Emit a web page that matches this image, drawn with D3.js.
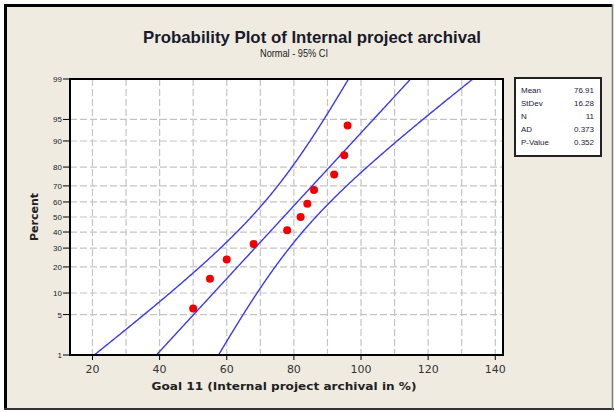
<!DOCTYPE html>
<html><head><meta charset="utf-8">
<script src="https://cdn.jsdelivr.net/npm/d3@7"></script>
<style>
html,body{margin:0;padding:0;background:#fff;}
svg{display:block;}
</style></head>
<body>
<script>
// ---- data ----
const values = [50, 55, 60, 68, 78, 82, 84, 86, 92, 95, 96];
const yTicks = [1, 5, 10, 20, 30, 40, 50, 60, 70, 80, 90, 95, 99];
const xTicks = [20, 40, 60, 80, 100, 120, 140];
const xGrid = [20, 30, 40, 50, 60, 70, 80, 90, 100, 110, 120, 130, 140];
const statLabels = ["Mean", "StDev", "N", "AD", "P-Value"];
const statValues = ["76.91", "16.28", "11", "0.373", "0.352"];
const mean = 76.91, sd = 16.28, n = values.length;
const title = "Probability Plot of Internal project archival";
const subtitle = "Normal - 95% CI";
const xLabel = "Goal 11 (Internal project archival in %)";
const yLabel = "Percent";

// inverse normal CDF (Acklam)
function qnorm(p){
  const a=[-3.969683028665376e+01,2.209460984245205e+02,-2.759285104469687e+02,1.383577518672690e+02,-3.066479806614716e+01,2.506628277459239e+00];
  const b=[-5.447609879822406e+01,1.615858368580409e+02,-1.556989798598866e+02,6.680131188771972e+01,-1.328068155288572e+01];
  const c=[-7.784894002430293e-03,-3.223964580411365e-01,-2.400758277161838e+00,-2.549732539343734e+00,4.374664141464968e+00,2.938163982698783e+00];
  const d=[7.784695709041462e-03,3.224671290700398e-01,2.445134137142996e+00,3.754408661907416e+00];
  const pl=0.02425, ph=1-pl; let q,r;
  if(p<pl){q=Math.sqrt(-2*Math.log(p));return (((((c[0]*q+c[1])*q+c[2])*q+c[3])*q+c[4])*q+c[5])/((((d[0]*q+d[1])*q+d[2])*q+d[3])*q+1);}
  if(p<=ph){q=p-0.5;r=q*q;return (((((a[0]*r+a[1])*r+a[2])*r+a[3])*r+a[4])*r+a[5])*q/(((((b[0]*r+b[1])*r+b[2])*r+b[3])*r+b[4])*r+1);}
  q=Math.sqrt(-2*Math.log(1-p));return -(((((c[0]*q+c[1])*q+c[2])*q+c[3])*q+c[4])*q+c[5])/((((d[0]*q+d[1])*q+d[2])*q+d[3])*q+1);
}

const W=614,H=412;
const L=70,R=503,T=79,B=355;
const svg=d3.select("body").append("svg").attr("width",W).attr("height",H);

// background & frame
svg.append("rect").attr("x",0).attr("y",0).attr("width",W).attr("height",H).attr("fill","#ffffff");
svg.append("rect").attr("x",5).attr("y",5).attr("width",607).attr("height",403).attr("fill","#efebe1");
svg.append("line").attr("x1",5.5).attr("x2",5.5).attr("y1",4).attr("y2",410).attr("stroke","#000").attr("stroke-width",3);
svg.append("line").attr("x1",4).attr("x2",613).attr("y1",5.5).attr("y2",5.5).attr("stroke","#000").attr("stroke-width",3);
svg.append("line").attr("x1",4).attr("x2",614).attr("y1",409).attr("y2",409).attr("stroke","#333",).attr("stroke-width",2);
svg.append("line").attr("x1",612.5).attr("x2",612.5).attr("y1",4).attr("y2",410).attr("stroke","#777").attr("stroke-width",1.5);

const x=d3.scaleLinear().domain([13.3,142.3]).range([L,R]);
const zl=d3.scaleLinear().domain([qnorm(0.01),qnorm(0.99)]).range([B,T]);
const y=p=>zl(qnorm(p/100));

svg.append("rect").attr("x",L).attr("y",T).attr("width",R-L).attr("height",B-T).attr("fill","#fff");

// grid
const gridC="#c4c4c4";
svg.append("g").selectAll("line").data(xGrid).join("line")
  .attr("x1",d=>x(d)).attr("x2",d=>x(d)).attr("y1",T).attr("y2",B)
  .attr("stroke",gridC).attr("stroke-width",1.2).attr("stroke-dasharray","7,3");
svg.append("g").selectAll("line").data(yTicks.filter(d=>d>1&&d<99)).join("line")
  .attr("x1",L).attr("x2",R).attr("y1",d=>y(d)).attr("y2",d=>y(d))
  .attr("stroke",gridC).attr("stroke-width",1.2).attr("stroke-dasharray","7,3");

// clip
svg.append("clipPath").attr("id","clip").append("rect").attr("x",L).attr("y",T).attr("width",R-L).attr("height",B-T);

// fitted line & CI
const zs=d3.range(-2.6,2.6001,0.02);
const zc=1.959964;
const fit=zs.map(z=>[mean+z*sd,z]);
const lo=zs.map(z=>[mean+z*sd-zc*sd*Math.sqrt((1+z*z/2)/n),z]);
const hi=zs.map(z=>[mean+z*sd+zc*sd*Math.sqrt((1+z*z/2)/n),z]);
const line=d3.line().x(d=>x(d[0])).y(d=>zl(d[1]));
const gl=svg.append("g").attr("clip-path","url(#clip)");
[fit,lo,hi].forEach(s=>gl.append("path").attr("d",line(s)).attr("fill","none").attr("stroke","#3a3af5").attr("stroke-width",1.4));

// points
const pts=values.slice().sort((a,b)=>a-b).map((v,i)=>[v,100*(i+1-0.3)/(n+0.4)]);
svg.append("g").selectAll("circle").data(pts).join("circle")
  .attr("cx",d=>x(d[0])).attr("cy",d=>y(d[1])).attr("r",4).attr("fill","#f20000");

// border
svg.append("rect").attr("x",L).attr("y",T).attr("width",R-L).attr("height",B-T).attr("fill","none").attr("stroke","#000").attr("stroke-width",2);

// y axis ticks
const yg=svg.append("g");
yg.selectAll("line").data(yTicks).join("line").attr("x1",L-7).attr("x2",L).attr("y1",d=>y(d)).attr("y2",d=>y(d)).attr("stroke","#000").attr("stroke-width",1);
yg.selectAll("text").data(yTicks).join("text").attr("x",L-8).attr("y",d=>y(d)+3).attr("text-anchor","end")
  .attr("font-family","Liberation Sans Narrow, Liberation Sans, sans-serif").attr("font-size",8).attr("fill","#222").text(d=>d);

// x axis ticks
const xg=svg.append("g");
xg.selectAll("line").data(xTicks).join("line").attr("x1",d=>x(d)).attr("x2",d=>x(d)).attr("y1",B).attr("y2",B+5).attr("stroke","#000");
xg.selectAll("text").data(xTicks).join("text").attr("x",d=>x(d)).attr("y",B+18).attr("text-anchor","middle")
  .attr("font-family","DejaVu Sans, sans-serif").attr("font-size",11).attr("fill","#333").text(d=>d);

// labels
svg.append("text").attr("x",284).attr("y",390).attr("text-anchor","middle")
  .attr("font-family","DejaVu Sans, sans-serif").attr("font-weight","bold").attr("font-size",11)
  .attr("textLength",265).attr("lengthAdjust","spacingAndGlyphs").attr("fill","#222").text(xLabel);
svg.append("text").attr("transform","translate(38,217) rotate(-90)").attr("text-anchor","middle")
  .attr("font-family","DejaVu Sans, sans-serif").attr("font-weight","bold").attr("font-size",11).attr("fill","#222").text(yLabel);
svg.append("text").attr("x",312).attr("y",43).attr("text-anchor","middle")
  .attr("font-family","Liberation Sans Narrow, Liberation Sans, sans-serif").attr("font-weight","bold").attr("font-size",17)
  .attr("textLength",338).attr("lengthAdjust","spacingAndGlyphs").attr("fill","#1a1a2a").text(title);
svg.append("text").attr("x",294).attr("y",57).attr("text-anchor","middle")
  .attr("font-family","Liberation Sans Narrow, Liberation Sans, sans-serif").attr("font-size",11)
  .attr("textLength",68).attr("lengthAdjust","spacingAndGlyphs").attr("fill","#222").text(subtitle);

// stats box
svg.append("rect").attr("x",515).attr("y",78).attr("width",86).attr("height",78).attr("fill","#fff").attr("stroke","#222").attr("stroke-width",2);
const sg=svg.append("g").attr("font-family","Liberation Sans Narrow, Liberation Sans, sans-serif").attr("font-size",8).attr("fill","#1a1a3a");
sg.selectAll("text.l").data(statLabels).join("text").attr("class","l").attr("x",521).attr("y",(d,i)=>93+i*13).text(d=>d);
sg.selectAll("text.v").data(statValues).join("text").attr("class","v").attr("x",594).attr("y",(d,i)=>93+i*13).attr("text-anchor","end").text(d=>d);
</script>
</body></html>
